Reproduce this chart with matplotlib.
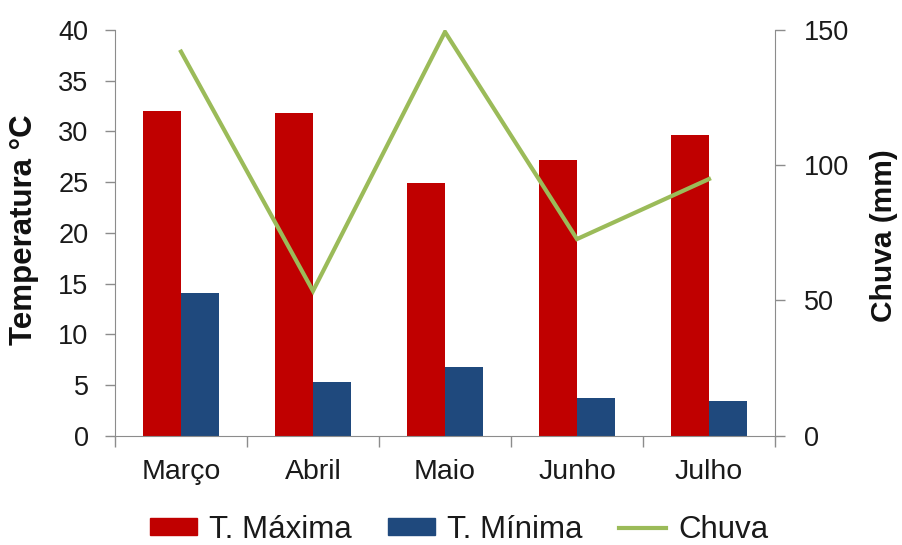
import matplotlib
matplotlib.use("Agg")
import matplotlib.pyplot as plt
import matplotlib.patches as mpatches
import matplotlib.lines as mlines
import numpy as np

plt.rcParams['font.family'] = ['Liberation Sans', 'DejaVu Sans']

meses = ["Março", "Abril", "Maio", "Junho", "Julho"]
t_maxima = [32.0, 31.8, 24.9, 27.2, 29.6]
t_minima = [14.1, 5.3, 6.8, 3.7, 3.4]
chuva = [142.0, 53.5, 149.3, 72.7, 94.9]

temp_ticks = list(range(0, 41, 5))
chuva_ticks = [0, 50, 100, 150]

cor_max = "#C00000"
cor_min = "#1F497D"
cor_chuva = "#9BBB59"
cor_eixo = "#8C8C8C"

fig = plt.figure(figsize=(9.02, 5.45), dpi=100)
ax = fig.add_axes([115/902, 1 - 435.7/545, (775 - 115)/902, (435.7 - 30)/545])

x = np.arange(len(meses))
w = 0.2857
ax.bar(x - w/2, t_maxima, width=w, color=cor_max, zorder=2)
ax.bar(x + w/2, t_minima, width=w, color=cor_min, zorder=2)

ax.set_xlim(-0.5, len(meses) - 0.5)
ax.set_ylim(0, 40)
ax.set_yticks(temp_ticks)
ax.tick_params(axis='y', labelsize=19.5, length=7, width=1, color=cor_eixo,
               pad=12, labelcolor="#1a1a1a")

# category boundaries get the tick marks, centers get the labels
ax.set_xticks(np.arange(-0.5, len(meses), 1.0))
ax.set_xticklabels([])
ax.set_xticks(x, minor=True)
ax.set_xticklabels(meses, minor=True)
ax.tick_params(axis='x', which='major', length=8, width=1, color=cor_eixo)
ax.tick_params(axis='x', which='minor', length=0, labelsize=20.5, pad=17,
               labelcolor="#1a1a1a")

for s in ["top", "right"]:
    ax.spines[s].set_visible(False)
for s in ["left", "bottom"]:
    ax.spines[s].set_color(cor_eixo)

ax2 = ax.twinx()
ax2.plot(x, chuva, color=cor_chuva, linewidth=3, zorder=3,
         solid_joinstyle='miter')
ax2.set_ylim(0, 150)
ax2.set_yticks(chuva_ticks)
ax2.tick_params(axis='y', labelsize=19.5, length=7, width=1, color=cor_eixo,
                pad=14, labelcolor="#1a1a1a")
for s in ["top", "left", "bottom"]:
    ax2.spines[s].set_visible(False)
ax2.spines["right"].set_color(cor_eixo)

fig.text(24/902, 1 - 230/545, "Temperatura °C", rotation=90, fontsize=22.5,
         fontweight='bold', ha='center', va='center', color="#111111")
fig.text(884/902, 1 - 236/545, "Chuva (mm)", rotation=90, fontsize=21.5,
         fontweight='bold', ha='center', va='center', color="#111111")

handles = [
    mpatches.Patch(color=cor_max, label="T. Máxima"),
    mpatches.Patch(color=cor_min, label="T. Mínima"),
    mlines.Line2D([], [], color=cor_chuva, linewidth=3, label="Chuva"),
]
fig.legend(handles=handles, loc='center', bbox_to_anchor=(459/902, 1 - 530/545),
           ncol=3, frameon=False, fontsize=22.5, handlelength=1.5,
           handleheight=0.45, handletextpad=0.4, columnspacing=1.15,
           borderpad=0, labelcolor="#1a1a1a")

fig.savefig("out.png", dpi=100)
